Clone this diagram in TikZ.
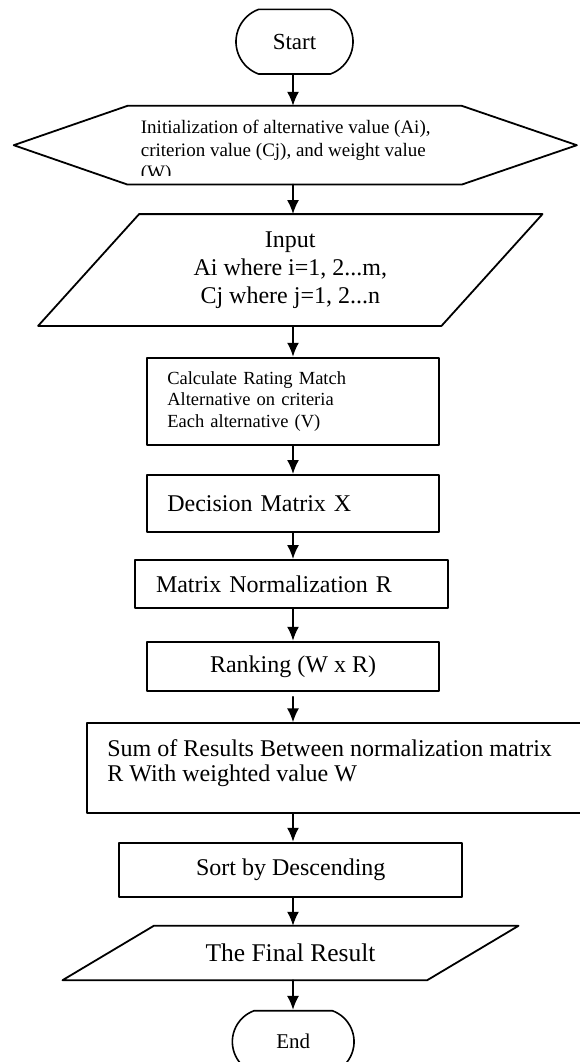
\documentclass[tikz,border=0pt]{standalone}
\usepackage{fontspec}
\setmainfont{Liberation Serif}
\usetikzlibrary{calc}
\usetikzlibrary{shapes.misc}
\usetikzlibrary{arrows.meta}

\begin{document}
\begin{tikzpicture}[x = 1pt, y = -1pt, line join = round, line cap = round,
  box/.style = {draw, line width = 1.8pt, inner sep = 0pt},
  term/.style = {draw, line width = 1.6pt, rounded rectangle,
    rounded rectangle arc length = 140, inner sep = 0pt},
  frame/.style = {inner sep = 0pt},
  arr/.style = {line width = 1.8pt, -{Latex[length = 14pt, width = 12pt]}}]

  \useasboundingbox (0, 0) rectangle (579, 1062);
  \coordinate (spine) at (293, 0);

  \node[term, minimum width = 117pt, minimum height = 64.7pt,
  font = \fontsize{23}{26}\selectfont] (start) at (294.5, 41.7) {Start};

  % hexagon
  \node[frame, minimum width = 562.7pt, minimum height = 78.3pt] (init)
  at (295.3, 145.2) {};
  \draw[line width = 1.8pt] (init.west) -- ($(init.north west) + (113.7, 0)$)
  -- ($(init.north east) - (115, 0)$) -- (init.east)
  -- ($(init.south east) - (115, 0)$) -- ($(init.south west) + (113.7, 0)$)
  -- cycle;
  \begin{scope}
    \clip (0, 100) rectangle (579, 175.5);
    \node[frame, anchor = north west, align = left,
    font = \fontsize{19}{22.5}\selectfont] (inittext) at (140.7, 120.3)
    {Initialization of alternative value (Ai),\\
      criterion value (Cj), and weight value\\ (W)};
  \end{scope}

  % input
  \node[frame, minimum width = 504pt, minimum height = 111.4pt, align = center,
  font = \fontsize{24}{28}\selectfont] (input) at (290.3, 270)
  {Input\\ Ai where i=1, 2...m,\\ Cj where j=1, 2...n};
  \draw[line width = 1.8pt] ($(input.north west) + (101, 0)$)
  -- (input.north east) -- ($(input.south east) - (101, 0)$)
  -- (input.south west) -- cycle;

  \node[box, minimum width = 292.6pt, minimum height = 87.3pt,
  text width = 251.4pt, inner xsep = 20.6pt, align = left,
  font = \fontsize{18.5}{21.5}\selectfont] (rating) at (293, 401.3)
  {Calculate Rating Match\\ Alternative on criteria\\ Each alternative (V)};

  \node[box, minimum width = 292.6pt, minimum height = 56.7pt,
  text width = 251.4pt, inner xsep = 20.6pt, align = left,
  font = \fontsize{24}{28}\selectfont] (decision) at (293, 503.3)
  {Decision Matrix X};

  \node[box, minimum width = 313.3pt, minimum height = 48.3pt,
  text width = 271.3pt, inner xsep = 21pt, align = left,
  font = \fontsize{24}{28}\selectfont] (normal) at (291.65, 584.15)
  {Matrix Normalization R};

  \node[box, minimum width = 292.6pt, minimum height = 49.3pt,
  font = \fontsize{24}{28}\selectfont] (ranking) at (293, 666.35)
  {Ranking (W x R)};

  \node[box, minimum width = 513.3pt, minimum height = 90pt,
  inner xsep = 20.6pt, inner ysep = 16.7pt,
  font = \fontsize{24}{25}\selectfont] (sum) at (343.35, 768.3)
  {\parbox[t][56.6pt][t]{472pt}{\raggedright
      Sum of Results Between normalization matrix\\
      R With weighted value W}};

  \node[box, minimum width = 343pt, minimum height = 54pt,
  font = \fontsize{24}{28}\selectfont] (sort) at (290.8, 869.7)
  {Sort by Descending};

  % output
  \node[frame, minimum width = 455.6pt, minimum height = 54pt,
  font = \fontsize{25.5}{28}\selectfont] (final) at (290.5, 953)
  {The Final Result};
  \draw[line width = 1.8pt] ($(final.north west) + (91.3, 0)$)
  -- (final.north east) -- ($(final.south east) - (91.3, 0)$)
  -- (final.south west) -- cycle;

  \node[term, minimum width = 121.7pt, minimum height = 62pt,
  font = \fontsize{21}{24}\selectfont] (finish) at (293.2, 1041.7) {End};

  \draw[arr] (start.south -| spine) -- (init.north -| spine);
  \draw[arr] (init.south -| spine) -- (input.north -| spine);
  \draw[arr] (input.south -| spine) -- (rating.north -| spine);
  \draw[arr] (rating.south -| spine) -- (decision.north -| spine);
  \draw[arr] (decision.south -| spine) -- (normal.north -| spine);
  \draw[arr] (normal.south -| spine) -- (ranking.north -| spine);
  \draw[arr, shorten <= 5pt] (ranking.south -| spine) -- (sum.north -| spine);
  \draw[arr] (sum.south -| spine) -- (sort.north -| spine);
  \draw[arr] (sort.south -| spine) -- (final.north -| spine);
  \draw[arr] (final.south -| spine) -- (finish.north -| spine);
\end{tikzpicture}
\end{document}
